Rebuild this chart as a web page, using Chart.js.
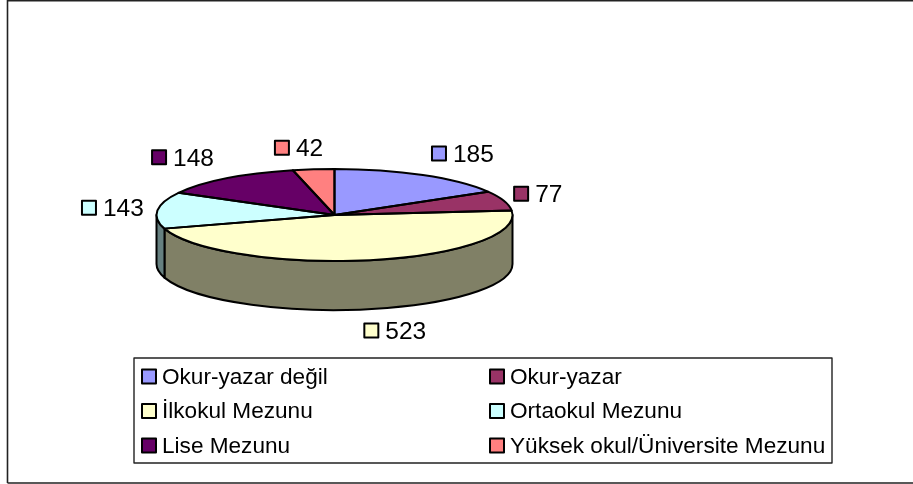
<!DOCTYPE html>
<html>
<head>
<meta charset="utf-8">
<style>html,body{margin:0;padding:0;background:#fff}canvas{display:block}</style>
<script src="https://cdn.jsdelivr.net/npm/chart.js@4"></script>
</head>
<body>
<canvas id="c" width="913" height="484"></canvas>
<script>
const categories = ["Okur-yazar değil","Okur-yazar","İlkokul Mezunu","Ortaokul Mezunu","Lise Mezunu","Yüksek okul/Üniversite Mezunu"];
const values = [185,77,523,143,148,42];
const colors = ["#9999FF","#993366","#FFFFCC","#CCFFFF","#660066","#FF8080"];
const wallColors = ["#4D4D80","#4D1A33","#808066","#668080","#330033","#804040"];
const labelOffsets = [[39.5,-21],[34,-6.5],[25,71],[-45,-2],[-44,-20.6],[-15,-21]];

const RY = 46, DEPTH = 49, LW = 2;
const LABEL_FONT = '24.5px "Liberation Sans", Arial, sans-serif';
const LEGEND_FONT = '22.6px "Liberation Sans", Arial, sans-serif';

function swatch(ctx, x, y, s, color){
  ctx.fillStyle = color; ctx.strokeStyle = '#000'; ctx.lineWidth = 2;
  ctx.fillRect(x, y, s, s); ctx.strokeRect(x, y, s, s);
}

const pie3d = {
  id:'pie3d',
  beforeDraw(chart){
    const ctx = chart.ctx;
    ctx.save();
    ctx.fillStyle='#fff'; ctx.fillRect(0,0,chart.width,chart.height);
    ctx.strokeStyle='#222'; ctx.lineWidth=1.6;
    ctx.beginPath();
    ctx.moveTo(7.5,483); ctx.lineTo(7.5,0.8); ctx.lineTo(913,0.8);
    ctx.moveTo(7.5,483); ctx.lineTo(913,483);
    ctx.stroke();
    ctx.restore();
  },
  beforeDatasetsDraw(chart){
    const ctx = chart.ctx, arcs = chart.getDatasetMeta(0).data;
    ctx.save();
    arcs.forEach((a,i)=>{
      const s=Math.max(a.startAngle,0), e=Math.min(a.endAngle,Math.PI);
      if(e<=s) return;
      ctx.beginPath();
      ctx.ellipse(a.x,a.y,a.outerRadius,RY,0,s,e,false);
      ctx.ellipse(a.x,a.y+DEPTH,a.outerRadius,RY,0,e,s,true);
      ctx.closePath();
      ctx.fillStyle=wallColors[i]; ctx.fill();
      ctx.strokeStyle='#000'; ctx.lineWidth=LW; ctx.lineJoin='round'; ctx.stroke();
    });
    ctx.restore();
    const a0=arcs[0];
    ctx.save();
    ctx.translate(a0.x,a0.y); ctx.scale(1,RY/a0.outerRadius); ctx.translate(-a0.x,-a0.y);
  },
  afterDatasetsDraw(chart){
    const ctx = chart.ctx, arcs = chart.getDatasetMeta(0).data;
    ctx.restore();
    ctx.save();
    ctx.strokeStyle='#000'; ctx.lineWidth=LW; ctx.lineJoin='round';
    arcs.forEach(a=>{
      ctx.beginPath();
      ctx.moveTo(a.x,a.y);
      ctx.ellipse(a.x,a.y,a.outerRadius,RY,0,a.startAngle,a.endAngle,false);
      ctx.closePath();
      ctx.stroke();
    });
    // value labels
    ctx.font=LABEL_FONT; ctx.textBaseline='middle'; ctx.textAlign='left';
    arcs.forEach((a,i)=>{
      const m=(a.startAngle+a.endAngle)/2;
      const ex=a.x+Math.cos(m)*a.outerRadius, ey=a.y+Math.sin(m)*RY;
      const txt=String(values[i]);
      const w=22+ctx.measureText(txt).width;
      const lx=ex+labelOffsets[i][0]-w/2, ly=ey+labelOffsets[i][1];
      swatch(ctx,lx+1,ly-7.5,14,colors[i]);
      ctx.fillStyle='#000';
      ctx.fillText(txt,lx+22,ly+1);
    });
    // legend
    ctx.fillStyle='#fff'; ctx.strokeStyle='#222'; ctx.lineWidth=1.4;
    ctx.fillRect(134,358,698,105); ctx.strokeRect(134,358,698,105);
    ctx.font=LEGEND_FONT; ctx.textBaseline='middle';
    categories.forEach((name,i)=>{
      const col=i%2, row=Math.floor(i/2);
      const x=col?490:142, y=376.5+row*34.5;
      swatch(ctx,x,y-7,14,colors[i]);
      ctx.fillStyle='#000';
      ctx.fillText(name,x+20,y+1);
    });
    ctx.restore();
  }
};

new Chart(document.getElementById('c'),{
  type:'pie',
  data:{labels:categories,datasets:[{data:values,backgroundColor:colors,borderWidth:0}]},
  options:{
    responsive:false,animation:false,
    layout:{padding:{left:156.5,right:400.5,top:37,bottom:91}},
    plugins:{legend:{display:false},tooltip:{enabled:false}}
  },
  plugins:[pie3d]
});
</script>
</body>
</html>
